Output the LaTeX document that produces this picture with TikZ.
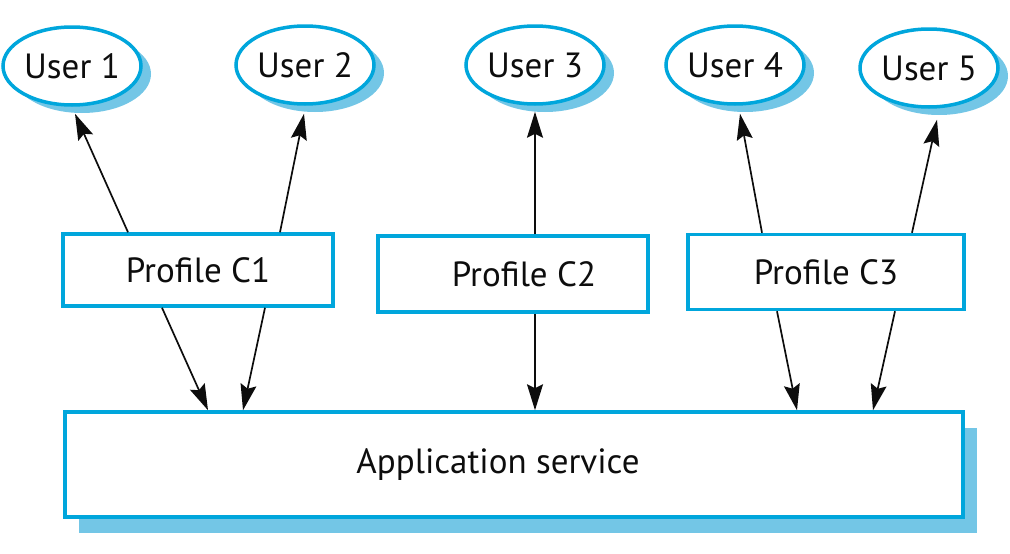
\documentclass[tikz,border=0pt]{standalone}
\usepackage{fontspec}
\setmainfont{PT Sans}
\usepackage{tikz}
\usetikzlibrary{arrows.meta,shadows,shapes.geometric}
\definecolor{profblue}{RGB}{0,166,220}
\definecolor{shadeblue}{RGB}{115,198,230}
\tikzset{
  >={Stealth[length=26pt,width=16pt,inset=4pt]},
  every node/.style={font=\fontsize{35}{42}\selectfont, text=black!95},
  user/.style={ellipse, draw=profblue, line width=3.5pt, fill=white,
    minimum width=138pt, minimum height=78pt, inner sep=0pt,
    drop shadow={shadow xshift=10pt, shadow yshift=-8pt, fill=shadeblue, opacity=1}},
  profile/.style={rectangle, draw=profblue, line width=3.5pt, fill=white,
    minimum width=270pt, minimum height=72pt, inner sep=0pt},
  appbox/.style={rectangle, draw=profblue, line width=3.5pt, fill=white,
    minimum width=898pt, minimum height=105pt, inner sep=0pt,
    drop shadow={shadow xshift=14pt, shadow yshift=-16pt, fill=shadeblue, opacity=1}},
  link/.style={->, line width=1.7pt, black!95},
}

\begin{document}
\begin{tikzpicture}[x=1pt,y=-1pt]
    \useasboundingbox (0,0) rectangle (1010,554);
    \node[user] (u1) at (72,66) {User 1};
    \node[user] (u2) at (305,65) {User 2};
    \node[user] (u3) at (535,65) {User 3};
    \node[user] (u4) at (735,65) {User 4};
    \node[user] (u5) at (929,68) {User 5};
    \node[profile] (c1) at (198,270) {Profile C1};
    \node[profile, minimum height=76pt] (c2) at (513,274) {\hspace*{22pt}Profile C2};
    \node[profile, minimum width=276pt, minimum height=75pt] (c3) at (826,272) {Profile C3};
    \node[appbox] (app) at (514,464.5) {Application service\hspace*{32pt}};
    \draw[link] ([xshift=-70pt]c1.north) -- ([shift={(3pt,-7pt)}]u1.south);
    \draw[link] ([xshift=82pt]c1.north) -- ([shift={(-1pt,-8pt)}]u2.south);
    \draw[link] ([xshift=22pt]c2.north) -- ([shift={(0pt,-6pt)}]u3.south);
    \draw[link] ([xshift=-64pt]c3.north) -- ([shift={(5pt,-8pt)}]u4.south);
    \draw[link] ([xshift=86pt]c3.north) -- ([shift={(8pt,-11pt)}]u5.south);
    \draw[link] ([xshift=-36pt]c1.south) -- ([xshift=-306pt]app.north);
    \draw[link] ([xshift=67pt]c1.south) -- ([xshift=-271pt]app.north);
    \draw[link] ([xshift=22pt]c2.south) -- ([xshift=21pt]app.north);
    \draw[link] ([xshift=-49pt]c3.south) -- ([xshift=283pt]app.north);
    \draw[link] ([xshift=69pt]c3.south) -- ([xshift=359pt]app.north);
\end{tikzpicture}
\end{document}
